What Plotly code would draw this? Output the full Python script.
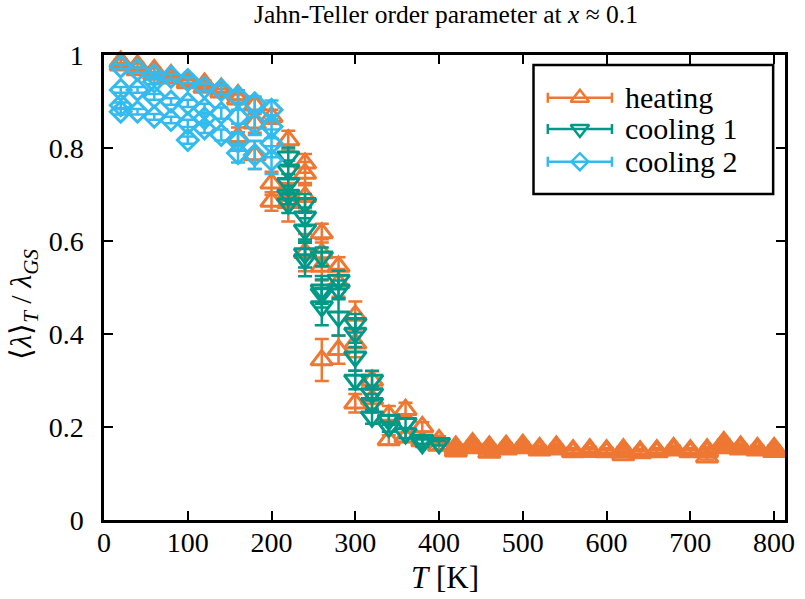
import plotly.graph_objects as go

# ---- data: Jahn-Teller order parameter <lambda>_T / lambda_GS vs temperature ----
# Several independent samples per temperature, so temperatures repeat.

heat_T = [20, 20, 40, 40, 60, 60, 80, 80, 100, 100, 120, 120, 140, 140,
          160, 160, 160, 180, 180, 180, 200, 200, 200,
          220, 220, 220, 240, 240, 240, 240, 260, 260, 260, 260,
          280, 280, 280, 300, 300, 300, 320, 320, 340, 340, 360, 360,
          380, 380, 400, 400,
          420, 420, 420, 440, 440, 440, 460, 460, 460, 480, 480, 480,
          500, 500, 500, 520, 520, 520, 540, 540, 540, 560, 560, 560,
          580, 580, 580, 600, 600, 600, 620, 620, 620, 640, 640, 640,
          660, 660, 660, 680, 680, 680, 700, 700, 700, 720, 720, 720,
          740, 740, 740, 760, 760, 760, 780, 780, 780, 800, 800, 800]
heat_val = [0.986, 0.978, 0.978, 0.968, 0.968, 0.958, 0.957, 0.950, 0.946, 0.940,
            0.939, 0.930, 0.928, 0.920,
            0.914, 0.905, 0.824, 0.892, 0.853, 0.785, 0.867, 0.724, 0.685,
            0.817, 0.700, 0.682, 0.767, 0.745, 0.695, 0.575, 0.617, 0.574, 0.545, 0.344,
            0.545, 0.510, 0.366, 0.440, 0.380, 0.251, 0.300, 0.260, 0.225, 0.172,
            0.237, 0.178, 0.200, 0.170, 0.172, 0.160,
            0.158, 0.153, 0.148, 0.165, 0.160, 0.155, 0.158, 0.152, 0.145,
            0.160, 0.156, 0.152, 0.162, 0.158, 0.155, 0.155, 0.152, 0.150,
            0.158, 0.155, 0.152, 0.150, 0.148, 0.146, 0.152, 0.150, 0.147,
            0.150, 0.148, 0.146, 0.152, 0.147, 0.140, 0.148, 0.146, 0.144,
            0.150, 0.148, 0.146, 0.155, 0.152, 0.150, 0.150, 0.148, 0.146,
            0.152, 0.147, 0.135, 0.168, 0.160, 0.155, 0.158, 0.155, 0.152,
            0.155, 0.152, 0.150, 0.155, 0.151, 0.147]
heat_err = [0.005, 0.005, 0.005, 0.005, 0.005, 0.005, 0.005, 0.005, 0.006, 0.006,
            0.006, 0.006, 0.007, 0.007,
            0.010, 0.010, 0.020, 0.015, 0.020, 0.030, 0.015, 0.025, 0.020,
            0.020, 0.025, 0.040, 0.020, 0.025, 0.030, 0.040, 0.020, 0.030, 0.030, 0.045,
            0.020, 0.030, 0.030, 0.030, 0.030, 0.020, 0.020, 0.020, 0.020, 0.010,
            0.015, 0.010, 0.010, 0.010, 0.008, 0.008] + [0.005] * 60

cool1_T = [220, 220, 220, 220, 220, 240, 240, 240, 240, 240,
           260, 260, 260, 260, 280, 280, 280, 300, 300, 300, 300,
           320, 320, 320, 320, 340, 340, 360, 360, 380, 380, 400]
cool1_val = [0.781, 0.753, 0.724, 0.699, 0.680, 0.681, 0.652, 0.624, 0.573, 0.560,
             0.566, 0.495, 0.487, 0.459, 0.516, 0.495, 0.437, 0.423, 0.402, 0.351, 0.301,
             0.301, 0.272, 0.251, 0.222, 0.215, 0.200, 0.208, 0.186, 0.172, 0.165, 0.165]
cool1_err = [0.020, 0.020, 0.020, 0.020, 0.020, 0.020, 0.020, 0.025, 0.030, 0.036,
             0.020, 0.030, 0.030, 0.040, 0.020, 0.020, 0.040, 0.020, 0.030, 0.030, 0.020,
             0.020, 0.015, 0.020, 0.015, 0.010, 0.010, 0.010, 0.010, 0.008, 0.008, 0.005]

cool2_T = [20, 20, 20, 20, 40, 40, 40, 60, 60, 60, 60, 80, 80, 80,
           100, 100, 100, 100, 120, 120, 120, 120, 140, 140, 140,
           160, 160, 160, 160, 180, 180, 180, 200, 200, 200, 200]
cool2_val = [0.975, 0.925, 0.892, 0.878, 0.968, 0.925, 0.878, 0.957, 0.943, 0.910, 0.867,
             0.953, 0.900, 0.860, 0.946, 0.896, 0.853, 0.817, 0.930, 0.885, 0.864, 0.842,
             0.925, 0.875, 0.828, 0.910, 0.867, 0.814, 0.789, 0.896, 0.853, 0.785,
             0.882, 0.846, 0.810, 0.774]
cool2_err = [0.005, 0.006, 0.006, 0.006, 0.005, 0.006, 0.006, 0.005, 0.006, 0.006, 0.006,
             0.006, 0.007, 0.007, 0.006, 0.008, 0.008, 0.008, 0.008, 0.010, 0.010, 0.010,
             0.010, 0.012, 0.012, 0.012, 0.015, 0.020, 0.020, 0.015, 0.025, 0.030,
             0.020, 0.025, 0.030, 0.030]

series_names = ["heating", "cooling 1", "cooling 2"]
colors = ["#EE7733", "#009988", "#33BBEE"]
symbols = ["triangle-up-open", "triangle-down-open", "diamond-open"]
msizes = [19, 19, 16]

x_ticks = [0, 100, 200, 300, 400, 500, 600, 700, 800]
y_ticks = [0, 0.2, 0.4, 0.6, 0.8, 1]
y_ticklabels = ["0", "0.2", "0.4", "0.6", "0.8", "1"]

FONT = "'Liberation Serif', 'Times New Roman', Times, serif"
LW = 3

fig = go.Figure()

datasets = [(heat_T, heat_val, heat_err), (cool1_T, cool1_val, cool1_err),
            (cool2_T, cool2_val, cool2_err)]
for (tt, vv, ee), name, col, sym, ms in zip(datasets, series_names, colors, symbols, msizes):
    fig.add_trace(go.Scatter(
        x=tt, y=vv, mode="markers", name=name, showlegend=False,
        cliponaxis=False,
        marker=dict(symbol=sym, size=ms, color=col, line=dict(width=LW, color=col)),
        error_y=dict(type="data", array=ee, visible=True, color=col,
                     thickness=2.5, width=7),
    ))

# legend keys: marker with a capped horizontal bar, drawn on an overlay axis pair
leg_x = 0.6988
leg_half = 0.0471
leg_rows = [0.9082, 0.8409, 0.7706]
for name, col, sym, ly, ms in zip(series_names, colors, symbols, leg_rows, msizes):
    fig.add_trace(go.Scatter(
        x=[leg_x], y=[ly], xaxis="x2", yaxis="y2", mode="markers",
        showlegend=False, cliponaxis=False, hoverinfo="skip",
        marker=dict(symbol=sym, size=ms - 3, color=col, line=dict(width=2.5, color=col)),
        error_x=dict(type="constant", value=leg_half, visible=True, color=col,
                     thickness=2.5, width=5),
    ))
    fig.add_annotation(x=0.7625, y=ly, xref="x2", yref="y2", text=name,
                       showarrow=False, xanchor="left", yanchor="middle",
                       font=dict(family=FONT, size=30, color="black"))

fig.add_shape(type="rect", xref="paper", yref="paper",
              x0=0.6307, x1=0.9826, y0=0.701, y1=0.9785,
              line=dict(color="black", width=2.5), fillcolor="rgba(0,0,0,0)")

axis_common = dict(
    showline=True, linecolor="black", linewidth=2.5, mirror="ticks",
    ticks="inside", ticklen=9, tickwidth=2, tickcolor="black",
    showgrid=False, zeroline=False,
    tickfont=dict(family=FONT, size=28, color="black"),
)

fig.update_layout(
    width=805, height=599,
    margin=dict(l=104, r=10, t=55, b=79),
    paper_bgcolor="white", plot_bgcolor="white",
    showlegend=False,
    font=dict(family=FONT),
    xaxis=dict(range=[0, 813], tickvals=x_ticks, ticklabelstandoff=-4, **axis_common),
    yaxis=dict(range=[0, 1], tickvals=y_ticks, ticktext=y_ticklabels,
               ticklabelstandoff=12, **axis_common),
    xaxis2=dict(range=[0, 1], overlaying="x", visible=False),
    yaxis2=dict(range=[0, 1], overlaying="y", visible=False),
)

fig.add_annotation(x=0.502, y=1.088, xref="paper", yref="paper",
                   text="Jahn-Teller order parameter at <i>x</i> ≈ 0.1",
                   showarrow=False, xanchor="center", yanchor="middle",
                   font=dict(family=FONT, size=25.5, color="black"))
fig.add_annotation(x=0.5, y=-0.1247, xref="paper", yref="paper",
                   text="<i>T</i> [K]", showarrow=False,
                   xanchor="center", yanchor="middle",
                   font=dict(family=FONT, size=31, color="black"))
fig.add_annotation(x=-0.1187, y=0.463, xref="paper", yref="paper",
                   text="⟨<i>λ</i>⟩<sub><i>T</i></sub> / <i>λ</i><sub><i>GS</i></sub>",
                   showarrow=False, textangle=-90,
                   xanchor="center", yanchor="middle",
                   font=dict(family=FONT, size=30, color="black"))

fig.write_html("out.html")
